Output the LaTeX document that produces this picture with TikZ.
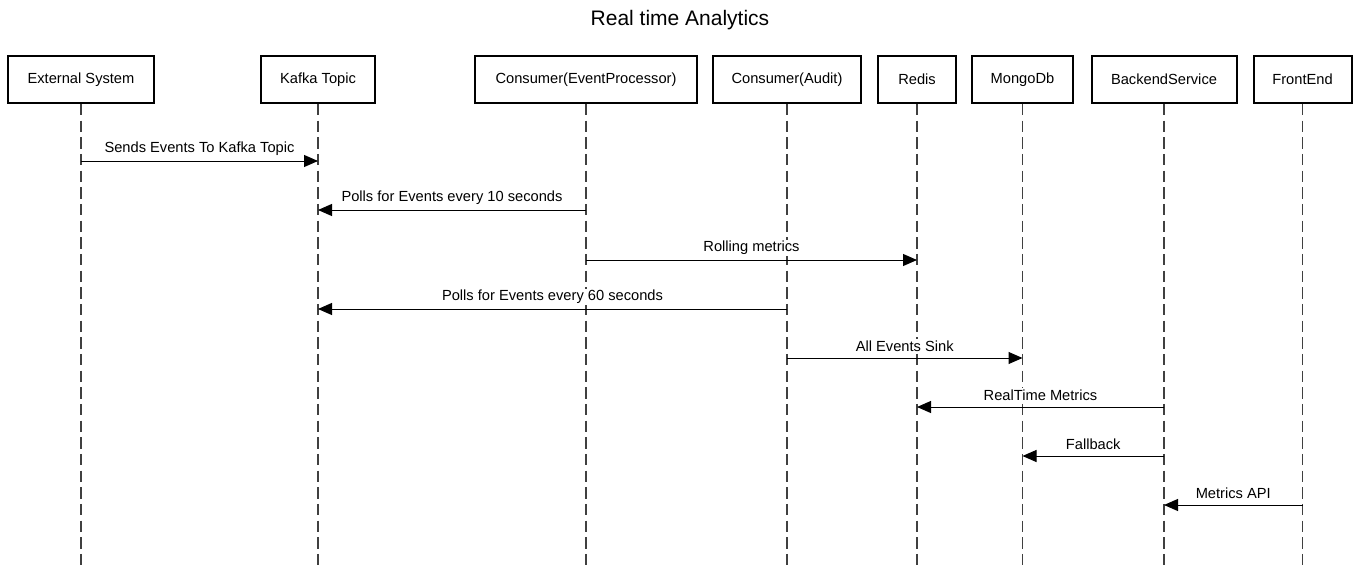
\documentclass[tikz,border=0pt]{standalone}
\usepackage{fontspec}
\setmainfont{Liberation Sans}
\usetikzlibrary{arrows.meta}

\begin{document}
\begin{tikzpicture}[x=0.75pt, y=-0.75pt,
    actor/.style={draw, line width=1.5pt, minimum height=35pt, font=\fontsize{11}{13}\selectfont},
    life/.style={line width=1pt, dash pattern=on 8.5pt off 4pt, black!75},
    msg/.style={line width=0.75pt, -{Triangle[length=10.5pt, width=9pt]}},
    lbl/.style={font=\fontsize{11}{13}\selectfont, fill=white, inner sep=1pt, yshift=9pt}]
    \useasboundingbox (0, 0) rectangle (1360, 567);
    \node at (680, 20) {\fontsize{15.75}{18}\selectfont Real time Analytics};
    \node[actor, minimum width=109.5pt] (ext) at (81, 79.5) {External System};
    \node[actor, minimum width=85.5pt] (kafka) at (318, 79.5) {Kafka Topic};
    \node[actor, minimum width=166.5pt] (proc) at (586, 79.5) {Consumer(EventProcessor)};
    \node[actor, minimum width=111pt] (audit) at (787, 79.5) {Consumer(Audit)};
    \node[actor, minimum width=58.5pt] (redis) at (917, 79.5) {Redis};
    \node[actor, minimum width=75.75pt] (mongo) at (1022.5, 79.5) {MongoDb};
    \node[actor, minimum width=108.75pt] (backend) at (1164, 79.5) {BackendService};
    \node[actor, minimum width=73.5pt] (front) at (1302.5, 79.5) {FrontEnd};
    \coordinate (bottom) at (0, 565);
    \draw[life] (ext.south) -- (ext |- bottom);
    \draw[life] (kafka.south) -- (kafka |- bottom);
    \draw[life] (proc.south) -- (proc |- bottom);
    \draw[life] (audit.south) -- (audit |- bottom);
    \draw[life] (redis.south) -- (redis |- bottom);
    \draw[life] (mongo.south) -- (mongo |- bottom);
    \draw[life] (backend.south) -- (backend |- bottom);
    \draw[life] (front.south) -- (front |- bottom);
    \coordinate (m1) at (0, 161);
    \coordinate (m2) at (0, 210);
    \coordinate (m3) at (0, 260);
    \coordinate (m4) at (0, 309);
    \coordinate (m5) at (0, 358);
    \coordinate (m6) at (0, 407);
    \coordinate (m7) at (0, 456);
    \coordinate (m8) at (0, 505);
    \draw[msg] (ext |- m1) -- node[lbl] {Sends Events To Kafka Topic} (kafka |- m1);
    \draw[msg] (proc |- m2) -- node[lbl] {Polls for Events every 10 seconds} (kafka |- m2);
    \draw[msg] (proc |- m3) -- node[lbl] {Rolling metrics} (redis |- m3);
    \draw[msg] (audit |- m4) -- node[lbl] {Polls for Events every 60 seconds} (kafka |- m4);
    \draw[msg] (audit |- m5) -- node[lbl] {All Events Sink} (mongo |- m5);
    \draw[msg] (backend |- m6) -- node[lbl] {RealTime Metrics} (redis |- m6);
    \draw[msg] (backend |- m7) -- node[lbl] {Fallback} (mongo |- m7);
    \draw[msg] (front |- m8) -- node[lbl] {Metrics API} (backend |- m8);
  \end{tikzpicture}
\end{document}
